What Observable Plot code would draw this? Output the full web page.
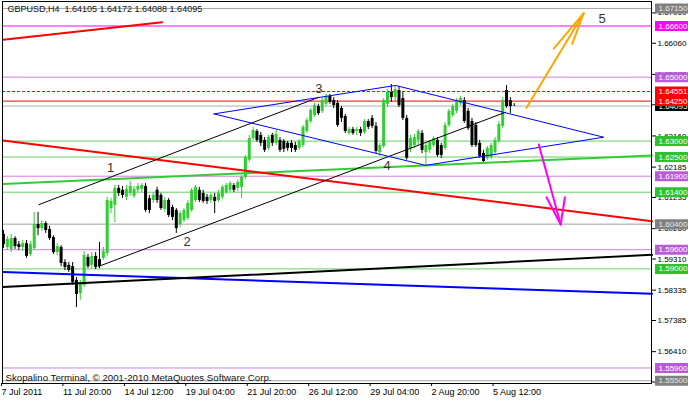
<!DOCTYPE html>
<html><head><meta charset="utf-8">
<script src="https://cdn.jsdelivr.net/npm/d3@7"></script>
<script src="https://cdn.jsdelivr.net/npm/@observablehq/plot@0.6"></script>
<style>body{margin:0;background:#fff}#chart svg{display:block}</style>
</head><body><div id="chart"></div>
<script>
const title = "GBPUSD,H4  1.64105 1.64172 1.64088 1.64095";
const copyright = "Skopalino Terminal, \u00A9 2001-2010 MetaQuotes Software Corp.";

const opens = [
1.6008,1.5967,1.5961,1.5995,1.5976,1.5967,1.5979,1.5945,1.5964,1.6039,
1.6026,1.6042,1.6023,1.5998,1.5951,1.5967,1.5920,1.5911,1.5907,1.5864,
1.5823,1.5848,1.5936,1.5911,1.5939,1.5929,1.5933,1.5948,1.6089,1.6099,
1.6152,1.6146,1.6124,1.6136,1.6127,1.6146,1.6149,1.6158,1.6120,1.6114,
1.6146,1.6130,1.6086,1.6114,1.6092,1.6083,1.6039,1.6051,1.6058,1.6083,
1.6114,1.6146,1.6136,1.6124,1.6114,1.6124,1.6114,1.6124,1.6139,1.6146,
1.6161,1.6152,1.6155,1.6186,1.6240,1.6308,1.6330,1.6318,1.6302,1.6277,
1.6318,1.6293,1.6302,1.6299,1.6293,1.6293,1.6286,1.6277,1.6286,1.6330,
1.6361,1.6380,1.6408,1.6393,1.6415,1.6440,1.6427,1.6418,1.6402,1.6377,
1.6324,1.6336,1.6330,1.6336,1.6327,1.6361,1.6371,1.6346,1.6264,1.6283,
1.6415,1.6452,1.6436,1.6458,1.6433,1.6371,1.6277,1.6286,1.6302,1.6324,
1.6264,1.6271,1.6286,1.6302,1.6286,1.6277,1.6349,1.6380,1.6393,1.6418,
1.6427,1.6393,1.6361,1.6349,1.6293,1.6261,1.6246,1.6249,1.6264,1.6299,
1.6346,1.6458,1.6427,1.64105];
const highs = [
1.6020,1.6001,1.6008,1.6001,1.5986,1.5989,1.5989,1.5986,1.6077,1.6077,
1.6051,1.6048,1.6033,1.6004,1.5979,1.5973,1.5929,1.5920,1.5920,1.5873,
1.5864,1.5954,1.5945,1.5951,1.5951,1.5983,1.5967,1.6124,1.6120,1.6161,
1.6161,1.6158,1.6161,1.6174,1.6158,1.6167,1.6167,1.6167,1.6130,1.6139,
1.6155,1.6136,1.6124,1.6120,1.6099,1.6089,1.6080,1.6089,1.6114,1.6152,
1.6161,1.6155,1.6146,1.6133,1.6136,1.6136,1.6146,1.6161,1.6167,1.6174,
1.6167,1.6177,1.6192,1.6255,1.6318,1.6343,1.6336,1.6327,1.6311,1.6318,
1.6324,1.6333,1.6311,1.6305,1.6299,1.6302,1.6296,1.6305,1.6349,1.6371,
1.6402,1.6418,1.6415,1.6436,1.6446,1.6446,1.6436,1.6427,1.6408,1.6383,
1.6343,1.6343,1.6343,1.6343,1.6367,1.6367,1.6380,1.6358,1.6293,1.6433,
1.6461,1.6477,1.6474,1.6471,1.6452,1.6380,1.6318,1.6321,1.6336,1.6333,
1.6293,1.6302,1.6314,1.6311,1.6293,1.6358,1.6399,1.6415,1.6433,1.6440,
1.6436,1.6402,1.6371,1.6358,1.6302,1.6271,1.6283,1.6293,1.6311,1.6361,
1.6436,1.6474,1.6436,1.64172];
const lows = [
1.5964,1.5958,1.5951,1.5961,1.5958,1.5954,1.5933,1.5939,1.5958,1.6004,
1.6017,1.6011,1.5989,1.5945,1.5942,1.5907,1.5895,1.5889,1.5848,1.5779,
1.5802,1.5842,1.5901,1.5901,1.5898,1.5901,1.5926,1.5939,1.6073,1.6045,
1.6127,1.6120,1.6114,1.6127,1.6120,1.6139,1.6139,1.6077,1.6073,1.6105,
1.6105,1.6083,1.6077,1.6061,1.6051,1.6011,1.6030,1.6045,1.6051,1.6077,
1.6108,1.6108,1.6105,1.6102,1.6105,1.6073,1.6108,1.6117,1.6133,1.6139,
1.6139,1.6142,1.6120,1.6180,1.6233,1.6302,1.6296,1.6283,1.6264,1.6271,
1.6283,1.6286,1.6264,1.6264,1.6268,1.6264,1.6264,1.6271,1.6280,1.6324,
1.6355,1.6374,1.6380,1.6386,1.6408,1.6415,1.6402,1.6343,1.6358,1.6324,
1.6318,1.6318,1.6318,1.6314,1.6321,1.6336,1.6339,1.6261,1.6252,1.6277,
1.6405,1.6421,1.6424,1.6405,1.6364,1.6240,1.6264,1.6277,1.6286,1.6261,
1.6224,1.6261,1.6280,1.6249,1.6246,1.6271,1.6343,1.6374,1.6386,1.6411,
1.6355,1.6333,1.6280,1.6280,1.6246,1.6230,1.6240,1.6243,1.6258,1.6293,
1.6339,1.6402,1.6386,1.64088];
const closes = [
1.5976,1.5992,1.5995,1.5970,1.5967,1.5979,1.5939,1.5976,1.6039,1.6026,
1.6042,1.6020,1.5995,1.5951,1.5970,1.5917,1.5904,1.5895,1.5857,1.5820,
1.5854,1.5942,1.5907,1.5939,1.5904,1.5907,1.5954,1.6114,1.6111,1.6152,
1.6136,1.6130,1.6149,1.6158,1.6149,1.6158,1.6161,1.6083,1.6083,1.6130,
1.6114,1.6089,1.6114,1.6067,1.6061,1.6026,1.6073,1.6083,1.6105,1.6146,
1.6155,1.6114,1.6111,1.6111,1.6130,1.6111,1.6136,1.6155,1.6161,1.6167,
1.6146,1.6171,1.6186,1.6249,1.6308,1.6333,1.6302,1.6293,1.6271,1.6311,
1.6293,1.6321,1.6271,1.6274,1.6277,1.6277,1.6271,1.6299,1.6343,1.6364,
1.6396,1.6411,1.6386,1.6427,1.6440,1.6421,1.6411,1.6349,1.6371,1.6330,
1.6336,1.6324,1.6336,1.6324,1.6361,1.6343,1.6346,1.6268,1.6286,1.6427,
1.6452,1.6436,1.6461,1.6411,1.6371,1.6246,1.6308,1.6311,1.6330,1.6271,
1.6286,1.6296,1.6308,1.6255,1.6255,1.6349,1.6393,1.6408,1.6427,1.6433,
1.6361,1.6339,1.6286,1.6286,1.6252,1.6236,1.6277,1.6286,1.6302,1.6352,
1.6427,1.6408,1.6408,1.64095];

const xTickBars = [0,16,32,48,64,80,96,112,128];
const xTickLabels = ["7 Jul 2011","11 Jul 20:00","14 Jul 12:00","19 Jul 04:00","21 Jul 20:00","26 Jul 12:00","29 Jul 04:00","2 Aug 20:00","5 Aug 12:00"];
const yTicks = [1.67010,1.66060,1.65085,1.64135,1.63160,1.62185,1.61235,1.60260,1.59310,1.58335,1.57385,1.56410,1.55460];

const greyLevels = [1.6715, 1.6040, 1.5550];
const magentaLevels = [1.6660];
const orchidLevels = [1.6500, 1.6190, 1.5960, 1.5590];
const greenLevels = [1.6300, 1.6250, 1.6140, 1.5900];
const redLevels = [1.64250];
const redDashedLevels = [1.64551];
const currentPrice = [1.64095];

const redUpper = [[-0.1, 1.6617], [41.3, 1.6672]];
const redDown = [[-0.1, 1.6302], [168.9, 1.6049]];
const channelUpper = [[9.2, 1.6101], [82.1, 1.6437]];
const channelLower = [[24.8, 1.5908], [130.7, 1.6390]];
const diamond = [[54.8, 1.6385], [102.1, 1.6474], [156.3, 1.6312], [109.9, 1.6224], [54.8, 1.6385]];
const greenTrend = [[-0.1, 1.6166], [168.9, 1.6255]];
const blueTrend = [[-0.1, 1.5890], [168.9, 1.5822]];
const blackTrend = [[-0.1, 1.5843], [168.9, 1.5944]];
const orangeShaft = [[136.2, 1.6404], [151.1, 1.6700]];
const orangeHead = [[143.3, 1.6589], [151.1, 1.6700], [148.1, 1.6604]];
const magentaShaft = [[139.4, 1.6289], [145.1, 1.6039]];
const magentaHead = [[141.4, 1.6124], [145.1, 1.6039], [146.2, 1.6124]];

const waveNames = ["1","2","3","4","5"];
const waveBars = [27.9, 47.8, 82.1, 99.9, 155.9];
const wavePrices = [1.6217, 1.5984, 1.6464, 1.6224, 1.6683];

// ---- build ----
const bars = opens.map((o, i) => ({i, o, h: highs[i], l: lows[i], c: closes[i]}));
const waves = waveNames.map((t, k) => ({t, x: waveBars[k], y: wavePrices[k]}));
const GREEN = "#33cc33";
const candleColor = d => d.c >= d.o ? GREEN : "#000000";
const fmt = d3.format(".5f");
const X0 = -0.26, X1 = 168.75;         // plot x-domain (bars)
const BOX0 = 169.8, BOX1 = 178.6;      // right price-scale label boxes
const lineOpts = (stroke, w, extra = {}) => ({x: d => d[0], y: d => d[1], stroke, strokeWidth: w, ...extra});
const boxRule = (vals, color) => Plot.ruleY(vals, {y: d => d, x1: BOX0, x2: BOX1, stroke: color, strokeWidth: 10});
const boxText = (vals, color = "white") => Plot.text(vals, {y: d => d, x: BOX0, text: d => fmt(d), fill: color, textAnchor: "start", dx: 3, fontSize: 8});

const chart = Plot.plot({
  width: 688, height: 400,
  marginLeft: 2, marginRight: 37, marginTop: 1, marginBottom: 17,
  style: {fontFamily: "'Liberation Sans', Arial, sans-serif", fontSize: "9px", background: "white", color: "black"},
  x: {type: "linear", domain: [X0, X1]},
  y: {type: "linear", domain: [1.55414, 1.67367]},
  color: {type: "identity"},
  marks: [
    // horizontal levels
    Plot.ruleY(greyLevels, {stroke: "#a0a0a0", strokeWidth: 1}),
    Plot.ruleY(currentPrice, {stroke: "#a7b0b8", strokeWidth: 1}),
    Plot.ruleY(magentaLevels, {stroke: "#ff00ff", strokeWidth: 1}),
    Plot.ruleY(orchidLevels, {stroke: "#cc80dd", strokeWidth: 1}),
    Plot.ruleY(greenLevels, {stroke: "#66d066", strokeWidth: 1}),
    Plot.ruleY(redLevels, {stroke: "#ff0000", strokeWidth: 1}),
    Plot.ruleY(redDashedLevels, {stroke: "#ff0000", strokeWidth: 1, strokeDasharray: "3,2"}),
    // candles
    Plot.ruleX(bars, {x: "i", y1: "l", y2: "h", stroke: candleColor, strokeWidth: 1}),
    Plot.ruleX(bars, {x: "i", y1: "o", y2: "c", stroke: candleColor, strokeWidth: 3}),
    // trend objects
    Plot.line(greenTrend, lineOpts(GREEN, 2)),
    Plot.line(blueTrend, lineOpts("#0000ff", 2)),
    Plot.line(blackTrend, lineOpts("#000000", 2)),
    Plot.line(redUpper, lineOpts("#ff0000", 2)),
    Plot.line(redDown, lineOpts("#ff0000", 2)),
    Plot.line(channelUpper, lineOpts("#000000", 1)),
    Plot.line(channelLower, lineOpts("#000000", 1)),
    Plot.line(diamond, lineOpts("#0000ff", 1)),
    Plot.line(orangeShaft, lineOpts("#ffa500", 2)),
    Plot.line(orangeHead, lineOpts("#ffa500", 2)),
    Plot.line(magentaShaft, lineOpts("#ff00ff", 2)),
    Plot.line(magentaHead, lineOpts("#ff00ff", 2)),
    Plot.text(waves, {x: "x", y: "y", text: "t", fontSize: 13, fill: "#333333"}),
    // texts
    Plot.text([title], {frameAnchor: "top-left", text: d => d, dx: 5, dy: 4, lineAnchor: "top", fill: "#111", fontSize: 9}),
    Plot.text([copyright], {frameAnchor: "bottom-left", text: d => d, dx: 3, dy: -3, lineAnchor: "bottom", fill: "#111", fontSize: 9.7}),
    Plot.frame({stroke: "#000"}),
    // axes
    Plot.axisX({ticks: xTickBars, tickFormat: d => xTickLabels[xTickBars.indexOf(d)], tickSize: 3, tickPadding: 2, textAnchor: "start", dx: -2, fontSize: 9}),
    Plot.axisY({anchor: "right", ticks: yTicks, tickFormat: fmt, tickSize: 4, tickPadding: 2, fontSize: 8}),
    // price-scale labels
    boxRule(greyLevels, "#808080"),
    boxRule(magentaLevels, "#ff00ff"),
    boxRule(orchidLevels, "#b85cd6"),
    boxRule(greenLevels, "#2fbf2f"),
    boxRule(currentPrice, "#000000"),
    boxText(currentPrice),
    boxRule(redDashedLevels, "#ff0000"),
    boxRule(redLevels, "#ff0000"),
    boxText(greyLevels, "#e8e8e8"),
    boxText(magentaLevels),
    boxText(orchidLevels),
    boxText(greenLevels),
    boxText(redDashedLevels),
    boxText(redLevels)
  ]
});
document.getElementById("chart").appendChild(chart);
</script>
</body></html>
